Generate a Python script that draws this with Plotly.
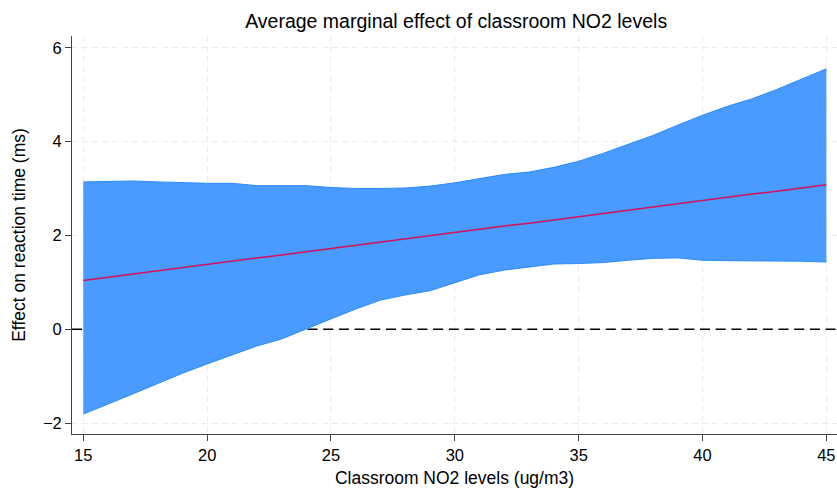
import plotly.graph_objects as go

no2 = list(range(15, 46))
upper = [3.14, 3.15, 3.16, 3.14, 3.12, 3.11, 3.11, 3.06, 3.06, 3.06, 3.02, 3.00, 3.00,
         3.01, 3.05, 3.12, 3.21, 3.30, 3.35, 3.45, 3.58, 3.75, 3.94, 4.13, 4.35, 4.56,
         4.75, 4.91, 5.11, 5.33, 5.55]
lower = [-1.81, -1.60, -1.38, -1.16, -0.94, -0.74, -0.55, -0.36, -0.21, 0.01, 0.22, 0.43,
         0.62, 0.73, 0.82, 0.99, 1.16, 1.26, 1.33, 1.39, 1.40, 1.42, 1.47, 1.51, 1.52,
         1.47, 1.46, 1.46, 1.46, 1.45, 1.43]
effect = [1.04, 1.11, 1.18, 1.24, 1.31, 1.38, 1.45, 1.52, 1.58, 1.65, 1.72, 1.79, 1.86,
          1.92, 1.99, 2.06, 2.13, 2.20, 2.26, 2.33, 2.40, 2.47, 2.54, 2.60, 2.67, 2.74,
          2.81, 2.88, 2.94, 3.01, 3.08]
x_ticks = [15, 20, 25, 30, 35, 40, 45]
y_ticks = [-2, 0, 2, 4, 6]
x_range = [14.544, 45.43]
y_range = [-2.234, 6.25]
ref_level = 0

FONT = "Liberation Sans, Arial, Helvetica, sans-serif"
BAND_LINE = "#2a8aff"
BAND_FILL = "#4a9bff"

fig = go.Figure()
# reference line at zero (drawn first, so the band covers it)
fig.add_trace(go.Scatter(x=x_range, y=[ref_level, ref_level], mode="lines",
                         line=dict(color="black", width=1.4, dash="10px,5.7px"),
                         showlegend=False, hoverinfo="skip"))
fig.add_trace(go.Scatter(x=no2, y=upper, mode="lines",
                         line=dict(color=BAND_LINE, width=1), showlegend=False))
fig.add_trace(go.Scatter(x=no2, y=lower, mode="lines", fill="tonexty",
                         fillcolor=BAND_FILL,
                         line=dict(color=BAND_LINE, width=1), showlegend=False))
fig.add_trace(go.Scatter(x=no2, y=effect, mode="lines",
                         line=dict(color="#d41159", width=1.5), showlegend=False))

fig.update_layout(
    width=837, height=489,
    margin=dict(l=72, r=0, t=36, b=55),
    paper_bgcolor="white", plot_bgcolor="white",
    font=dict(family=FONT, size=17, color="black"),
    title=dict(text="Average marginal effect of classroom NO2 levels",
               x=0.545, xanchor="center", y=0.957, yanchor="middle",
               font=dict(size=19.5, family=FONT, color="black")),
    xaxis=dict(range=x_range, tickvals=x_ticks, showline=True,
               linecolor="#444", linewidth=1, ticks="outside", ticklen=6,
               tickcolor="#444", showgrid=True, gridcolor="#ececec", gridwidth=1,
               griddash="6px,4px", zeroline=False, tickfont=dict(size=16.5),
               automargin=False,
               title=dict(text="Classroom NO2 levels (ug/m3)", standoff=8,
                          font=dict(size=17.5))),
    yaxis=dict(range=y_range, tickvals=y_ticks, showline=True,
               linecolor="#444", linewidth=1, ticks="outside", ticklen=6,
               tickcolor="#444", showgrid=True, gridcolor="#ececec", gridwidth=1,
               griddash="6px,4px", zeroline=False, tickfont=dict(size=16.5),
               tickformat="d", automargin=False,
               title=dict(text="Effect on reaction time (ms)", standoff=12,
                          font=dict(size=17.5))),
)

fig.write_html("out.html", config={"displayModeBar": False},
               post_script="document.body.style.margin='0';document.body.style.padding='0';")
